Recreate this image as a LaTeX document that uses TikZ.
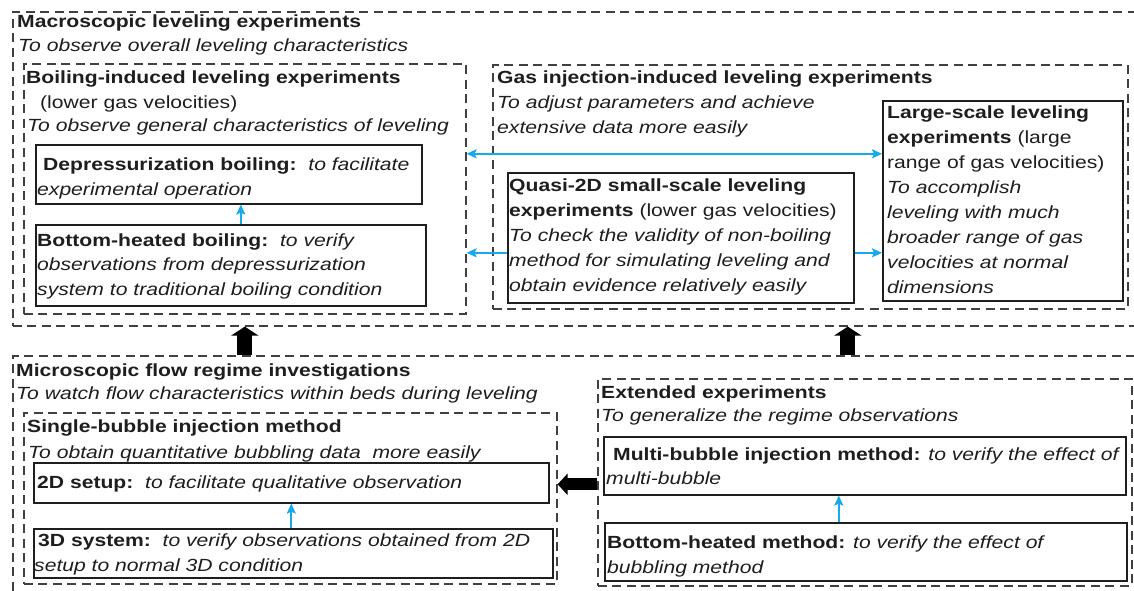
\documentclass[tikz,border=0pt]{standalone}
\usepackage{fontspec}
\setmainfont{Liberation Sans}[FakeStretch=1.2]
\usetikzlibrary{arrows.meta}
\definecolor{arrblue}{RGB}{20,170,235}
\definecolor{ink}{RGB}{30,30,30}
\begin{document}
\begin{tikzpicture}[x=1pt,y=-1pt,
  dbox/.style={draw=ink!85, line width=1.6pt, dash pattern=on 9pt off 5.5pt, inner sep=0pt, anchor=north west},
  sbox/.style={draw=ink, line width=1.6pt, inner sep=0pt, anchor=north west},
  txt/.style={anchor=base west, inner sep=0pt, text=ink, font=\fontsize{17.6}{22}\selectfont},
  barrow/.style={draw=arrblue, line width=1.8pt, -{Stealth[length=10pt,width=9pt,inset=2pt]}},
  bigarrow/.style={draw=black, line width=15pt, -{Triangle[length=9pt,width=27pt]}},
  sidearrow/.style={draw=black, line width=12pt, -{Triangle[length=10pt,width=21pt]}}]
\useasboundingbox (0,0) rectangle (1134,590);
\fill[white] (0,0) rectangle (1134,590);
% ---------- boxes ----------
\node[dbox, minimum width=1130pt, minimum height=314pt] (macro) at (12,11) {};
\node[dbox, minimum width=442pt, minimum height=250pt] (boil) at (23,63) {};
\node[dbox, minimum width=635pt, minimum height=244pt] (gas) at (492,64) {};
\node[sbox, minimum width=386pt, minimum height=59pt] (dep) at (35,144) {};
\node[sbox, minimum width=390pt, minimum height=81pt] (bhb) at (35,224) {};
\node[sbox, minimum width=346pt, minimum height=130pt] (quasi) at (507,172) {};
\node[sbox, minimum width=240pt, minimum height=200pt] (large) at (882,100) {};
\node[dbox, minimum width=1130pt, minimum height=240pt] (micro) at (12,355) {};
\node[dbox, minimum width=533pt, minimum height=171pt] (single) at (23,412) {};
\node[sbox, minimum width=515pt, minimum height=40pt] (twod) at (33,462) {};
\node[sbox, minimum width=519pt, minimum height=49pt] (threed) at (33,528) {};
\node[dbox, minimum width=534pt, minimum height=207pt] (ext) at (597,378) {};
\node[sbox, minimum width=522pt, minimum height=58pt] (multi) at (603,436) {};
\node[sbox, minimum width=522pt, minimum height=58pt] (bhm) at (604,522) {};
% ---------- texts: top ----------
\node[txt] (t1) at (17,27.5) {\bfseries Macroscopic leveling experiments};
\node[txt] (t2) at (18,51) {\itshape To observe overall leveling characteristics};
\node[txt] (t3) at (26,83) {\bfseries Boiling-induced leveling experiments};
\node[txt] (t4) at (40,108) {(lower gas velocities)};
\node[txt] (t5) at (27,131.5) {\itshape To observe general characteristics of leveling};
\node[txt] (t6) at (43,170) {{\bfseries Depressurization boiling:}\ \ \itshape to facilitate};
\node[txt] (t7) at (37,195) {\itshape experimental operation};
\node[txt] (t8) at (37,246) {{\bfseries Bottom-heated boiling:}\ \ \itshape to verify};
\node[txt] (t9) at (37,270) {\itshape observations from depressurization};
\node[txt] (t10) at (37,295) {\itshape system to traditional boiling condition};
\node[txt] (t11) at (497,83) {\bfseries Gas injection-induced leveling experiments};
\node[txt] (t12) at (497,108) {\itshape To adjust parameters and achieve};
\node[txt] (t13) at (497,133) {\itshape extensive data more easily};
\node[txt] (q1) at (509,191) {\bfseries Quasi-2D small-scale leveling};
\node[txt] (q2) at (509,216) {{\bfseries experiments} (lower gas velocities)};
\node[txt] (q3) at (509,241) {\itshape To check the validity of non-boiling};
\node[txt] (q4) at (509,266) {\itshape method for simulating leveling and};
\node[txt] (q5) at (509,291) {\itshape obtain evidence relatively easily};
\node[txt] (l1) at (887,118) {\bfseries Large-scale leveling};
\node[txt] (l2) at (887,143) {{\bfseries experiments} (large};
\node[txt] (l3) at (887,168) {range of gas velocities)};
\node[txt] (l4) at (887,193) {\itshape To accomplish};
\node[txt] (l5) at (887,218) {\itshape leveling with much};
\node[txt] (l6) at (887,243) {\itshape broader range of gas};
\node[txt] (l7) at (887,268) {\itshape velocities at normal};
\node[txt] (l8) at (887,293) {\itshape dimensions};
% ---------- texts: bottom ----------
\node[txt] (b1) at (16,376) {\bfseries Microscopic flow regime investigations};
\node[txt] (b2) at (16,399) {\itshape To watch flow characteristics within beds during leveling};
\node[txt] (b3) at (27,432) {\bfseries Single-bubble injection method};
\node[txt] (b4) at (28,458) {\itshape To obtain quantitative bubbling data\ \ more easily};
\node[txt] (b5) at (37,488) {{\bfseries 2D setup:}\ \ \itshape to facilitate qualitative observation};
\node[txt] (b6) at (38,546) {{\bfseries 3D system:}\ \ \itshape to verify observations obtained from 2D};
\node[txt] (b7) at (34,571) {\itshape setup to normal 3D condition};
\node[txt] (e1) at (601,398) {\bfseries Extended experiments};
\node[txt] (e2) at (601,421) {\itshape To generalize the regime observations};
\node[txt] (e3) at (613,460) {{\bfseries Multi-bubble injection method:} \itshape to verify the effect of};
\node[txt] (e4) at (606,484) {\itshape multi-bubble};
\node[txt] (e5) at (607,548) {{\bfseries Bottom-heated method:} \itshape to verify the effect of};
\node[txt] (e6) at (607,573) {\itshape bubbling method};
% ---------- connectors ----------
\draw[barrow, {Stealth[length=10pt,width=9pt,inset=2pt]}-{Stealth[length=10pt,width=9pt,inset=2pt]}]
  ([yshift=35pt]boil.east) -- ([yshift=35pt]boil.east -| large.west);
\draw[barrow] ([yshift=-15pt]quasi.west) -- ([yshift=-15pt]quasi.west -| boil.east);
\draw[barrow] ([yshift=-15pt]quasi.east) -- ([yshift=-15pt]quasi.east -| large.west);
\draw[barrow] ([xshift=10pt]bhb.north) -- ([xshift=10pt]bhb.north |- dep.south);
\draw[barrow] ([xshift=-2pt]threed.north) -- ([xshift=-2pt]threed.north |- twod.south);
\draw[barrow] ([xshift=-27pt]bhm.north) -- ([xshift=-27pt]bhm.north |- multi.south);
\draw[bigarrow] (boil.south |- micro.north) -- (boil.south |- macro.south);
\draw[bigarrow] ([xshift=-155pt]large.south |- micro.north) -- ([xshift=-155pt]large.south |- macro.south);
\draw[sidearrow] ([yshift=-2pt]ext.west) -- ([yshift=-2pt]ext.west -| single.east);
\end{tikzpicture}
\end{document}
